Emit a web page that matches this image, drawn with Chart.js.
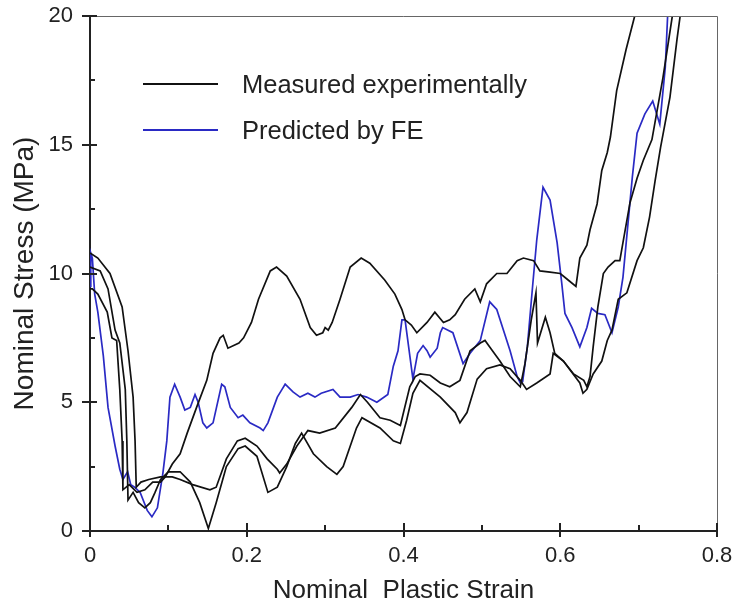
<!DOCTYPE html>
<html>
<head>
<meta charset="utf-8">
<script src="https://cdn.jsdelivr.net/npm/chart.js@4.4.1/dist/chart.umd.min.js"></script>
<style>
  html, body { margin: 0; padding: 0; background: #fff; }
  .chart-container { position: relative; width: 738px; height: 610px; }
</style>
</head>
<body>
<div class="chart-container">
    <canvas id="stressChart"></canvas>
</div>

<script>
    // Measured curves (three specimens), strain / stress pairs
    const measuredAStrain = [0, 0.003, 0.010, 0.022, 0.028, 0.034, 0.038, 0.041, 0.042, 0.050, 0.060, 0.070, 0.080, 0.090, 0.096, 0.105, 0.115, 0.124, 0.136, 0.149, 0.157, 0.166, 0.170, 0.176, 0.190, 0.196, 0.206, 0.215, 0.230, 0.238, 0.251, 0.268, 0.281, 0.289, 0.297, 0.300, 0.304, 0.309, 0.319, 0.332, 0.346, 0.357, 0.376, 0.389, 0.398, 0.402, 0.410, 0.417, 0.430, 0.440, 0.451, 0.459, 0.466, 0.478, 0.491, 0.498, 0.506, 0.519, 0.532, 0.545, 0.553, 0.566, 0.574, 0.587, 0.600, 0.612, 0.620, 0.625, 0.634, 0.638, 0.647, 0.653, 0.660, 0.664, 0.672, 0.684, 0.695];
    const measuredAStress = [9.4, 9.4, 9.2, 8.5, 7.5, 7.4, 5.5, 3.5, 1.6, 1.8, 1.5, 1.6, 1.9, 1.9, 2.1, 2.6, 3.0, 3.8, 4.8, 5.85, 6.9, 7.5, 7.6, 7.1, 7.3, 7.5, 8.1, 9.0, 10.1, 10.25, 9.9, 9.0, 7.9, 7.6, 7.7, 7.9, 7.8, 8.1, 9.0, 10.25, 10.6, 10.4, 9.75, 9.2, 8.6, 8.2, 8.0, 7.7, 8.1, 8.5, 8.1, 8.2, 8.4, 9.0, 9.4, 8.9, 9.6, 10.0, 10.0, 10.5, 10.6, 10.5, 10.1, 10.05, 10.0, 9.7, 9.5, 10.6, 11.1, 11.7, 12.7, 14.0, 14.7, 15.3, 17.1, 18.7, 20.0];

    const measuredBStrain = [0, 0.010, 0.0255, 0.041, 0.0485, 0.055, 0.0575, 0.059, 0.065, 0.075, 0.090, 0.105, 0.115, 0.131, 0.153, 0.161, 0.174, 0.188, 0.198, 0.213, 0.226, 0.239, 0.242, 0.251, 0.264, 0.278, 0.293, 0.313, 0.334, 0.345, 0.354, 0.370, 0.383, 0.396, 0.400, 0.408, 0.415, 0.421, 0.434, 0.447, 0.459, 0.472, 0.485, 0.498, 0.504, 0.510, 0.523, 0.536, 0.549, 0.555, 0.563, 0.569, 0.571, 0.581, 0.587, 0.593, 0.604, 0.617, 0.630, 0.634, 0.638, 0.642, 0.648, 0.655, 0.661, 0.670, 0.676, 0.680, 0.689, 0.698, 0.706, 0.717, 0.731, 0.743];
    const measuredBStress = [10.8, 10.6, 10.0, 8.7, 7.0, 5.2, 3.5, 1.7, 1.9, 2.0, 2.1, 2.1, 2.0, 1.8, 1.6, 1.7, 2.8, 3.5, 3.6, 3.3, 2.8, 2.4, 2.25, 2.6, 3.3, 3.9, 3.8, 4.0, 4.8, 5.3, 5.0, 4.4, 4.3, 4.1, 4.6, 5.6, 6.0, 6.1, 6.05, 5.75, 5.6, 5.85, 7.0, 7.3, 7.4, 7.15, 6.6, 6.0, 5.6, 6.5, 8.2, 9.25, 7.3, 8.3, 7.7, 6.9, 6.6, 6.1, 5.85, 5.6, 6.0, 7.15, 8.7, 10.0, 10.25, 10.5, 10.5, 11.2, 12.75, 13.7, 14.4, 15.2, 17.6, 20.0];

    const measuredCStrain = [0, 0.013, 0.023, 0.032, 0.038, 0.045, 0.047, 0.0485, 0.055, 0.062, 0.070, 0.077, 0.083, 0.090, 0.100, 0.115, 0.128, 0.140, 0.151, 0.161, 0.174, 0.189, 0.198, 0.213, 0.227, 0.239, 0.251, 0.262, 0.270, 0.285, 0.302, 0.315, 0.323, 0.340, 0.347, 0.370, 0.387, 0.396, 0.404, 0.412, 0.421, 0.447, 0.466, 0.472, 0.481, 0.494, 0.506, 0.523, 0.536, 0.549, 0.557, 0.570, 0.587, 0.591, 0.604, 0.625, 0.629, 0.634, 0.642, 0.653, 0.660, 0.666, 0.674, 0.685, 0.698, 0.706, 0.714, 0.721, 0.728, 0.740, 0.749, 0.753];
    const measuredCStress = [10.25, 10.1, 9.4, 7.8, 7.3, 5.5, 3.5, 1.2, 1.5, 1.1, 0.9, 1.1, 1.5, 2.0, 2.3, 2.3, 1.9, 1.1, 0.1, 1.1, 2.5, 3.2, 3.3, 2.9, 1.5, 1.7, 2.5, 3.4, 3.8, 3.0, 2.5, 2.2, 2.5, 4.0, 4.4, 4.0, 3.5, 3.4, 4.3, 5.35, 5.85, 5.2, 4.6, 4.2, 4.6, 5.9, 6.3, 6.45, 6.3, 5.85, 5.5, 5.75, 6.1, 6.9, 6.6, 5.75, 5.35, 5.5, 6.1, 6.6, 7.4, 7.8, 9.0, 9.25, 10.5, 11.0, 12.2, 13.6, 14.9, 16.85, 19.1, 20.0];

    // FE prediction
    const predictedStrain = [0, 0.001, 0.003, 0.006, 0.010, 0.017, 0.023, 0.032, 0.038, 0.042, 0.048, 0.052, 0.057, 0.064, 0.073, 0.079, 0.086, 0.093, 0.098, 0.102, 0.108, 0.115, 0.121, 0.128, 0.134, 0.138, 0.144, 0.149, 0.157, 0.168, 0.172, 0.179, 0.189, 0.195, 0.204, 0.217, 0.221, 0.227, 0.239, 0.245, 0.249, 0.259, 0.268, 0.278, 0.287, 0.295, 0.310, 0.319, 0.332, 0.342, 0.353, 0.366, 0.380, 0.387, 0.393, 0.398, 0.402, 0.412, 0.418, 0.425, 0.430, 0.434, 0.443, 0.447, 0.450, 0.463, 0.476, 0.485, 0.498, 0.510, 0.519, 0.536, 0.545, 0.549, 0.552, 0.558, 0.565, 0.570, 0.578, 0.587, 0.596, 0.602, 0.606, 0.615, 0.625, 0.634, 0.640, 0.648, 0.657, 0.666, 0.674, 0.680, 0.686, 0.692, 0.698, 0.708, 0.718, 0.727, 0.734, 0.737];
    const predictedStress = [9.5, 10.8, 10.6, 9.2, 8.5, 6.8, 4.8, 3.3, 2.4, 2.0, 2.3, 1.8, 1.7, 1.5, 0.8, 0.55, 0.9, 2.25, 3.5, 5.2, 5.7, 5.2, 4.7, 4.8, 5.3, 5.0, 4.2, 4.0, 4.2, 5.7, 5.6, 4.8, 4.4, 4.5, 4.2, 4.0, 3.9, 4.2, 5.2, 5.5, 5.7, 5.4, 5.2, 5.35, 5.2, 5.35, 5.5, 5.2, 5.2, 5.3, 5.2, 5.0, 5.3, 6.4, 7.0, 8.2, 8.2, 5.9, 6.9, 7.2, 7.0, 6.75, 7.1, 7.7, 7.9, 7.7, 6.5, 6.9, 7.4, 8.9, 8.6, 7.0, 6.0, 5.75, 5.8, 7.15, 9.6, 11.3, 13.35, 12.85, 11.2, 9.6, 8.45, 7.9, 7.15, 7.9, 8.65, 8.45, 8.4, 7.7, 8.7, 9.85, 11.8, 13.75, 15.45, 16.2, 16.7, 15.8, 18.0, 20.0];

    const xTicks = [0, 0.2, 0.4, 0.6, 0.8];
    const yTicks = [0, 5, 10, 15, 20];
    const xMinorTicks = [0.1, 0.3, 0.5, 0.7];
    const yMinorTicks = [2.5, 7.5, 12.5, 17.5];

    const legendItems = [
        { text: 'Measured experimentally', color: '#111111' },
        { text: 'Predicted by FE', color: '#2a2ac4' }
    ];

    const FONT = "'Liberation Sans', Arial, sans-serif";
    const AXIS = '#222222';

    function toPoints(xs, ys) {
        return xs.map((x, i) => ({ x: x, y: ys[i] }));
    }

    // inner tick marks, frame and legend
    const decorPlugin = {
        id: 'decor',
        afterDraw(chart) {
            const ctx = chart.ctx;
            const area = chart.chartArea;
            const xs = chart.scales.x;
            const ys = chart.scales.y;
            ctx.save();
            // top / right frame
            ctx.strokeStyle = '#666';
            ctx.lineWidth = 1;
            ctx.beginPath();
            ctx.moveTo(area.left, area.top + 0.5);
            ctx.lineTo(area.right + 0.5, area.top + 0.5);
            ctx.lineTo(area.right + 0.5, area.bottom);
            ctx.stroke();

            ctx.strokeStyle = AXIS;
            ctx.lineWidth = 2;
            ctx.beginPath();
            xTicks.forEach(v => {
                const px = Math.round(xs.getPixelForValue(v));
                ctx.moveTo(px, area.bottom);
                ctx.lineTo(px, area.bottom - 8);
            });
            xMinorTicks.forEach(v => {
                const px = Math.round(xs.getPixelForValue(v));
                ctx.moveTo(px, area.bottom);
                ctx.lineTo(px, area.bottom - 6);
            });
            yTicks.forEach(v => {
                const py = Math.round(ys.getPixelForValue(v));
                ctx.moveTo(area.left, py);
                ctx.lineTo(area.left + 7, py);
            });
            yMinorTicks.forEach(v => {
                const py = Math.round(ys.getPixelForValue(v));
                ctx.moveTo(area.left, py);
                ctx.lineTo(area.left + 5, py);
            });
            ctx.stroke();

            // legend
            ctx.font = '25.5px ' + FONT;
            ctx.textBaseline = 'alphabetic';
            ctx.textAlign = 'left';
            legendItems.forEach((item, i) => {
                const y = 84 + i * 46;
                ctx.strokeStyle = item.color;
                ctx.lineWidth = 2;
                ctx.beginPath();
                ctx.moveTo(143, y);
                ctx.lineTo(218, y);
                ctx.stroke();
                ctx.fillStyle = '#222';
                ctx.fillText(item.text, 242, y + 9);
            });
            ctx.restore();
        }
    };

    const lineStyle = { borderWidth: 1.7, pointRadius: 0, tension: 0, fill: false };

    const ctx = document.getElementById('stressChart').getContext('2d');
    new Chart(ctx, {
        type: 'line',
        data: {
            datasets: [
                Object.assign({ label: 'Measured experimentally', data: toPoints(measuredAStrain, measuredAStress), borderColor: '#111111' }, lineStyle),
                Object.assign({ label: 'Measured experimentally', data: toPoints(measuredBStrain, measuredBStress), borderColor: '#111111' }, lineStyle),
                Object.assign({ label: 'Measured experimentally', data: toPoints(measuredCStrain, measuredCStress), borderColor: '#111111' }, lineStyle),
                Object.assign({ label: 'Predicted by FE', data: toPoints(predictedStrain, predictedStress), borderColor: '#2a2ac4' }, lineStyle)
            ]
        },
        options: {
            responsive: true,
            maintainAspectRatio: false,
            animation: false,
            layout: { padding: { top: 16, right: 21, left: 0, bottom: 0 } },
            plugins: {
                legend: { display: false },
                tooltip: { enabled: false }
            },
            scales: {
                x: {
                    type: 'linear',
                    min: 0,
                    max: 0.8,
                    afterFit: scale => {
                        scale.height = 79;
                        scale.paddingLeft = 0;
                        scale.paddingRight = 0;
                    },
                    afterBuildTicks: scale => { scale.ticks = xTicks.map(v => ({ value: v })); },
                    grid: { drawOnChartArea: false, drawTicks: true, tickLength: 6, color: AXIS, lineWidth: 2 },
                    border: { display: true, color: AXIS, width: 2 },
                    ticks: {
                        color: '#222',
                        padding: 6,
                        font: { family: FONT, size: 22 },
                        callback: v => String(v)
                    },
                    title: {
                        display: true,
                        text: 'Nominal  Plastic Strain',
                        color: '#222',
                        font: { family: FONT, size: 26 },
                        padding: { top: 0, bottom: 4 }
                    }
                },
                y: {
                    type: 'linear',
                    min: 0,
                    max: 20,
                    afterFit: scale => {
                        scale.width = 90;
                        scale.paddingTop = 0;
                        scale.paddingBottom = 0;
                    },
                    afterBuildTicks: scale => { scale.ticks = yTicks.map(v => ({ value: v })); },
                    grid: { drawOnChartArea: false, drawTicks: true, tickLength: 8, color: AXIS, lineWidth: 2 },
                    border: { display: true, color: AXIS, width: 2 },
                    ticks: {
                        color: '#222',
                        padding: 9,
                        font: { family: FONT, size: 22 }
                    },
                    title: {
                        display: true,
                        text: 'Nominal Stress (MPa)',
                        color: '#222',
                        font: { family: FONT, size: 28 },
                        padding: { top: 8, bottom: 0 }
                    }
                }
            }
        },
        plugins: [decorPlugin]
    });
</script>
</body>
</html>
